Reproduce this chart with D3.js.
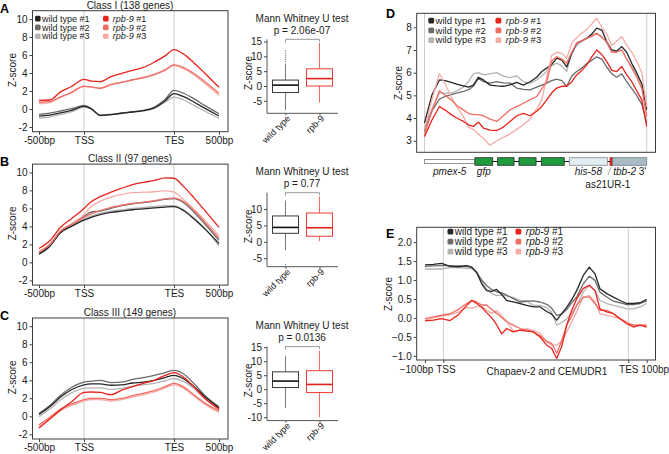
<!DOCTYPE html>
<html><head><meta charset="utf-8">
<script src="https://cdn.jsdelivr.net/npm/d3@7/dist/d3.min.js"></script>
<style>
html,body{margin:0;padding:0;background:#fff;}
svg text{font-family:"Liberation Sans",Arial,Helvetica,sans-serif;}
</style></head><body>
<svg id="fig" width="669" height="454" xmlns="http://www.w3.org/2000/svg"></svg>
<script>
// ================= DATA =================
const seriesNames = ["wild type #1","wild type #2","wild type #3","rpb-9 #1","rpb-9 #2","rpb-9 #3"];
const seriesColors = ["#262626","#6b6b6b","#b4b4b4","#e8231c","#ef6d64","#f6aca6"];

// metagene profiles (x: -500bp=0, TSS=25, TES=75, 500bp=100)
const profX = [0, 6, 12, 18, 25, 29, 34, 40, 46, 52, 58, 64, 70, 75, 80, 86, 92, 100];
const profTickPos = [0, 25, 75, 100];
const profTickLab = ["-500bp", "TSS", "TES", "500bp"];
const profYTicks = [-2, 0, 2, 4, 6, 8, 10];
const classTitles = ["Class I (138 genes)", "Class II (97 genes)", "Class III (149 genes)"];

const aWt1 = [-0.8, -0.67, -0.44, -0.15, 0.3, 0.02, -0.7, -0.62, -0.47, -0.33, -0.18, 0.12, 0.9, 1.7, 1.4, 0.78, 0.1, -0.78];
const aWt2 = [-0.6, -0.45, -0.22, 0.04, 0.4, 0.06, -0.68, -0.6, -0.44, -0.3, -0.14, 0.2, 1.05, 2.07, 1.78, 1.15, 0.4, -0.52];
const aWt3 = [-1.0, -0.9, -0.6, -0.33, 0.22, 0.0, -0.72, -0.64, -0.48, -0.35, -0.2, 0.05, 0.75, 1.33, 1.04, 0.4, -0.22, -1.04];
const aRpb1 = [0.96, 1.0, 1.9, 2.5, 3.3, 3.1, 3.05, 3.6, 3.95, 4.3, 4.62, 5.2, 5.9, 6.6, 6.15, 5.15, 4.0, 2.4];
const aRpb2 = [0.75, 0.82, 1.35, 1.85, 2.55, 2.45, 2.3, 2.7, 2.95, 3.25, 3.5, 3.85, 4.35, 4.9, 4.62, 3.95, 3.05, 1.75];
const aRpb3 = [0.6, 0.72, 1.28, 1.8, 2.5, 2.42, 2.35, 2.75, 3.0, 3.2, 3.45, 3.8, 4.3, 4.85, 4.5, 3.8, 2.85, 1.5];

const bWt1 = [0.9, 1.8, 3.3, 4.0, 4.7, 5.0, 5.3, 5.55, 5.7, 5.85, 5.95, 6.05, 6.15, 6.2, 5.8, 4.85, 3.75, 2.1];
const bWt2 = [1.0, 1.9, 3.4, 4.2, 5.1, 5.6, 5.7, 6.0, 6.3, 6.5, 6.65, 6.8, 7.0, 7.1, 6.7, 5.6, 4.3, 2.45];
const bWt3 = [0.95, 1.85, 3.35, 4.05, 4.8, 5.15, 5.45, 5.7, 5.85, 6.0, 6.1, 6.2, 6.3, 6.3, 5.9, 4.95, 3.8, 1.85];
const bRpb1 = [1.55, 2.4, 3.9, 4.85, 6.0, 6.75, 7.3, 7.8, 8.25, 8.65, 8.9, 9.1, 9.4, 9.35, 8.5, 7.2, 5.8, 3.9];
const bRpb2 = [1.15, 2.0, 3.5, 4.2, 5.0, 5.4, 5.75, 6.1, 6.35, 6.55, 6.7, 6.85, 7.05, 7.15, 6.8, 5.8, 4.5, 2.7];
const bRpb3 = [1.2, 2.0, 3.5, 4.3, 5.3, 6.2, 6.8, 7.25, 7.55, 7.75, 7.8, 7.85, 7.95, 7.8, 7.05, 5.95, 4.7, 3.0];

const cWt1 = [0.2, 1.05, 2.15, 2.95, 3.5, 3.6, 3.6, 3.45, 3.5, 3.7, 3.8, 4.0, 4.3, 4.55, 4.2, 3.3, 2.2, 0.95];
const cWt2 = [0.33, 1.2, 2.35, 3.2, 3.8, 3.9, 4.0, 3.75, 3.8, 4.1, 4.3, 4.55, 4.85, 5.1, 4.75, 3.65, 2.35, 1.05];
const cWt3 = [-0.05, 0.8, 1.85, 2.6, 3.1, 3.15, 3.15, 3.0, 3.1, 3.35, 3.5, 3.65, 3.95, 4.2, 3.9, 3.1, 2.0, 0.8];
const cRpb1 = [-1.3, -0.3, 0.7, 1.6, 2.65, 2.7, 2.65, 2.4, 2.9, 3.3, 3.65, 4.0, 4.55, 4.85, 4.4, 3.3, 2.0, 0.8];
const cRpb2 = [-0.95, -0.1, 0.8, 1.35, 1.85, 2.0, 2.0, 1.85, 2.0, 2.3, 2.55, 2.85, 3.3, 3.65, 3.3, 2.4, 1.5, 0.6];
const cRpb3 = [-1.15, -0.3, 0.65, 1.2, 1.7, 1.85, 1.85, 1.7, 1.85, 2.15, 2.4, 2.7, 3.15, 3.5, 3.15, 2.25, 1.35, 0.45];

// box plots: [lower whisker, Q1, median, Q3, upper whisker]
const boxGroups = ["wild type", "rpb-9"];
const boxTitle = "Mann Whitney U test";
const boxPvalues = ["p = 2.06e-07", "p = 0.77", "p = 0.0136"];
const boxIWt = [-8.1, -2.2, 0.3, 2.0, 7.6];
const boxIRpb = [-5.6, 0.0, 2.5, 5.8, 14.5];
const boxIWtOut = [8.3, 9.0, 9.7, 10.4, 11.1, 11.9];
const boxIIWt = [-2.6, 2.6, 4.4, 7.9, 12.6];
const boxIIRpb = [0.2, 1.7, 4.3, 8.8, 13.9];
const boxIIWtOut = [-6.9];
const boxIIIWt = [-6.7, 0.6, 2.9, 6.2, 11.9];
const boxIIIRpb = [-10.0, -1.2, 1.7, 6.6, 13.7];
const boxIIIWtOut = [];
const boxYTicks = [[-5, 0, 5, 10, 15], [-5, 0, 5, 10], [-10, -5, 0, 5, 10, 15]];

// panel D: reporter transgene (x: 0..100 along construct)
const dX = [0, 3.3, 6.7, 9.3, 12, 14.5, 17.5, 19.8, 22, 24.3, 26.5, 29.5, 32.5, 35.5, 38.5, 41.5, 44.5, 47.5, 50.5, 52.8, 55, 57.2, 59.5, 61.8, 64, 66.3, 68.5, 70.8, 73, 75.3, 77.5, 79.8, 82, 84.3, 86.5, 88.8, 91, 93.3, 95.5, 97.8, 100];
const dWt1 = [3.78, 5.0, 5.68, 5.65, 5.57, 5.5, 5.42, 5.36, 5.45, 5.8, 5.68, 5.45, 5.42, 5.4, 5.46, 5.57, 5.45, 5.6, 5.8, 6.05, 6.2, 6.35, 6.64, 6.55, 6.25, 6.85, 7.3, 7.4, 7.52, 7.7, 7.96, 7.88, 7.37, 7.0, 6.95, 7.15, 6.9, 6.4, 6.0, 5.5, 4.37];
const dWt2 = [3.44, 4.3, 4.83, 4.95, 5.03, 5.1, 5.17, 5.25, 5.4, 5.76, 5.6, 5.54, 5.6, 5.55, 5.54, 5.32, 5.26, 5.24, 5.36, 5.45, 5.54, 5.65, 5.71, 5.65, 5.4, 5.85, 6.05, 6.2, 6.4, 6.55, 6.7, 6.6, 6.25, 5.95, 5.8, 5.95, 5.6, 5.3, 5.0, 4.6, 3.78];
const dWt3 = [3.5, 4.4, 5.1, 5.1, 5.1, 5.2, 5.36, 5.6, 5.95, 6.0, 5.9, 5.95, 6.0, 5.85, 5.78, 5.86, 5.6, 5.54, 5.68, 5.85, 6.05, 6.3, 6.42, 6.3, 6.05, 6.9, 7.2, 7.4, 7.5, 7.65, 7.74, 7.6, 7.3, 6.9, 6.95, 7.0, 6.6, 6.25, 5.9, 5.5, 4.5];
const dRpb1 = [3.18, 3.9, 4.51, 4.35, 4.15, 4.0, 3.85, 3.7, 3.63, 3.82, 3.56, 3.47, 3.45, 3.6, 3.85, 4.1, 4.2, 4.1, 4.3, 4.51, 4.8, 5.1, 5.32, 5.4, 5.4, 5.6, 5.9, 6.1, 6.34, 6.7, 7.0, 6.8, 6.5, 6.1, 6.05, 6.27, 5.9, 5.6, 5.2, 4.8, 3.63];
const dRpb2 = [3.3, 4.3, 5.2, 5.0, 4.8, 4.55, 4.36, 4.2, 4.15, 4.15, 4.1, 3.95, 3.85, 4.1, 4.36, 4.5, 4.65, 4.8, 4.95, 5.3, 5.6, 6.5, 6.7, 6.6, 6.42, 6.9, 7.3, 7.4, 7.52, 7.6, 7.74, 7.55, 7.37, 6.9, 6.9, 7.0, 6.6, 6.2, 5.8, 5.3, 4.07];
const dRpb3 = [3.5, 4.8, 5.95, 5.5, 4.95, 4.5, 4.07, 3.6, 3.5, 3.3, 3.1, 2.8, 3.0, 3.15, 3.3, 3.5, 3.7, 3.95, 4.4, 4.8, 5.8, 6.75, 6.9, 6.85, 6.64, 7.3, 7.55, 7.74, 7.9, 8.15, 8.4, 8.0, 7.7, 7.2, 7.4, 7.59, 7.2, 6.9, 6.5, 6.0, 4.5];
const dYTicks = [3, 4, 5, 6, 7, 8];

// gene model of the reporter
const genePartStart = [0, 22.7, 32.9, 42.5, 52.6, 65.2, 83.5, 84.7];
const genePartEnd = [22.7, 30.7, 40.3, 50.2, 62.9, 82.3, 84.7, 100];
const genePartKind = ["promoter", "exon", "exon", "exon", "exon", "his", "pirna", "utr"];
const genePartLabel = ["pmex-5", "gfp", "", "", "", "his-58", "as21UR-1", "tbb-2"];

// panel E: transposons (x: -100bp=0, TSS=8.3, TES=91.7, 100bp=100)
const eX = [0, 3.8, 7.5, 11.3, 15, 18.8, 21.1, 23.3, 25.6, 27.8, 30.1, 32.3, 34.6, 36.8, 39.8, 42.9, 45.9, 48.9, 51.9, 54.9, 57.1, 59.4, 61.7, 63.9, 66.2, 68.4, 71.4, 74.1, 76.7, 78.9, 82, 85, 88, 91, 94, 97, 100];
const eWt1 = [1.40, 1.41, 1.44, 1.36, 1.35, 1.38, 1.34, 1.20, 0.90, 0.72, 0.70, 0.75, 0.62, 0.46, 0.42, 0.38, 0.33, 0.29, 0.29, 0.17, 0.10, -0.06, 0.12, 0.28, 0.48, 0.72, 1.12, 1.34, 1.16, 0.77, 0.64, 0.55, 0.46, 0.38, 0.38, 0.40, 0.49];
const eWt2 = [1.36, 1.37, 1.38, 1.38, 1.37, 1.36, 1.33, 1.20, 1.00, 0.85, 0.75, 0.69, 0.66, 0.60, 0.51, 0.42, 0.44, 0.45, 0.42, 0.36, 0.26, 0.07, 0.10, 0.22, 0.40, 0.55, 0.90, 1.10, 0.99, 0.68, 0.55, 0.44, 0.40, 0.35, 0.35, 0.38, 0.44];
const eWt3 = [1.29, 1.29, 1.29, 1.33, 1.33, 1.31, 1.30, 1.20, 0.95, 0.75, 0.64, 0.59, 0.60, 0.58, 0.54, 0.46, 0.44, 0.33, 0.33, 0.27, 0.15, -0.19, -0.12, -0.02, 0.12, 0.33, 0.68, 0.86, 0.72, 0.46, 0.38, 0.33, 0.29, 0.24, 0.24, 0.29, 0.38];
const eRpb1 = [-0.08, -0.06, -0.02, -0.07, 0.08, 0.33, 0.46, 0.38, 0.28, 0.14, 0.00, -0.18, -0.42, -0.28, -0.37, -0.32, -0.35, -0.37, -0.50, -0.72, -0.80, -1.07, -0.75, -0.19, 0.20, 0.50, 0.78, 0.86, 0.72, 0.24, 0.16, 0.11, -0.02, -0.15, -0.24, -0.19, -0.24];
const eRpb2 = [-0.02, 0.03, 0.07, 0.11, 0.22, 0.38, 0.46, 0.42, 0.34, 0.34, 0.22, 0.12, 0.01, -0.10, -0.19, -0.28, -0.32, -0.37, -0.47, -0.62, -0.67, -0.93, -0.60, -0.20, 0.05, 0.33, 0.55, 0.55, 0.38, 0.20, 0.20, 0.11, -0.02, -0.15, -0.19, -0.19, -0.19];
const eRpb3 = [-0.06, 0.00, 0.05, 0.08, 0.15, 0.28, 0.25, 0.30, 0.30, 0.20, 0.12, 0.20, 0.05, -0.08, -0.35, -0.32, -0.28, -0.33, -0.40, -0.63, -0.72, -0.72, -0.60, -0.38, -0.10, 0.16, 0.55, 0.59, 0.42, 0.11, 0.07, 0.03, -0.02, -0.10, -0.19, -0.19, -0.19];
const eTickPos = [0, 8.3, 91.7, 100];
const eTickLab = ["\u2212100bp", "TSS", "TES", "100bp"];
const eMidLabel = "Chapaev-2 and CEMUDR1";
const eMidPos = 55;
const eYTicks = [-1, -0.5, 0, 0.5, 1, 1.5, 2];

// ================= DRAWING =================
const FF = "'Liberation Sans', Arial, Helvetica, sans-serif";
const svg = d3.select("#fig");
svg.append("rect").attr("width", 669).attr("height", 454).attr("fill", "#fff");
const drawOrder = [2, 1, 0, 5, 4, 3];

function styleAxis(ax) {
  ax.attr("font-family", null).attr("font-size", null);
  ax.selectAll(".domain").remove();
  ax.selectAll(".tick line").attr("stroke", "#444");
  ax.selectAll(".tick text").attr("fill", "#1a1a1a").style("font-size", "10px").style("font-family", FF);
}
function label(g, x, y, s, size, anchor, extra) {
  const t = g.append("text").attr("x", x).attr("y", y).attr("text-anchor", anchor || "start")
    .style("font-size", size + "px").style("font-family", FF).attr("fill", "#1a1a1a").text(s);
  if (extra) extra(t);
  return t;
}
function yTitle(g, x, y) {
  g.append("text").attr("transform", `translate(${x},${y}) rotate(-90)`).attr("text-anchor", "middle")
    .attr("dy", "0.35em").style("font-size", "10px").style("font-family", FF).attr("fill", "#1a1a1a").text("Z-score");
}
function legend(g, x0, x1, y0, dy, fs, ms, gap1, gap2) {
  seriesNames.forEach((n, i) => {
    const isWt = i < 3;
    const cx = isWt ? x0 : x1;
    const y = y0 + (i % 3) * dy;
    g.append("rect").attr("x", cx).attr("y", y - ms / 2).attr("width", ms).attr("height", ms)
      .attr("rx", 1.5).attr("fill", seriesColors[i]);
    const t = g.append("text").attr("x", cx + ms + (isWt ? gap1 : gap2)).attr("y", y).attr("dy", "0.35em")
      .style("font-size", fs + "px").style("font-family", FF).attr("fill", "#1a1a1a");
    const parts = n.split(" #");
    if (isWt) t.text(n);
    else {
      t.append("tspan").style("font-style", "italic").text(parts[0]);
      t.append("tspan").text(" #" + parts[1]);
    }
  });
}

// ---------- profile panels A, B, C ----------
const profData = [
  [aWt1, aWt2, aWt3, aRpb1, aRpb2, aRpb3],
  [bWt1, bWt2, bWt3, bRpb1, bRpb2, bRpb3],
  [cWt1, cWt2, cWt3, cRpb1, cRpb2, cRpb3]
];
const panelOff = [0, 153.4, 307.3];
const panelLetters = ["A", "B", "C"];

profData.forEach((ser, pi) => {
  const g = svg.append("g").attr("transform", `translate(0,${panelOff[pi]})`);
  const x = d3.scaleLinear().domain([0, 100]).range([39, 219]);
  const y = d3.scaleLinear().domain([-2.52, 10.92]).range([131.7, 10.7]);
  [profTickPos[1], profTickPos[2]].forEach(v => g.append("line").attr("x1", x(v)).attr("x2", x(v))
    .attr("y1", 10.7).attr("y2", 131.7).attr("stroke", "#cdcdcd").attr("stroke-width", 1));
  const line = d3.line().x((d, i) => x(profX[i])).y(d => y(d)).curve(d3.curveMonotoneX);
  drawOrder.forEach(si => g.append("path").attr("d", line(ser[si])).attr("fill", "none")
    .attr("stroke", seriesColors[si]).attr("stroke-width", 1.3).attr("stroke-linejoin", "round"));
  g.append("rect").attr("x", 32.5).attr("y", 10.7).attr("width", 195.5).attr("height", 121)
    .attr("fill", "none").attr("stroke", "#3c3c3c").attr("stroke-width", 1);
  const ay = g.append("g").attr("transform", "translate(32.5,0)")
    .call(d3.axisLeft(y).tickValues(profYTicks).tickSize(3).tickPadding(2).tickFormat(d => (d < 0 ? "-" + Math.abs(d) : "" + d)));
  styleAxis(ay);
  const ax = g.append("g").attr("transform", "translate(0,131.7)")
    .call(d3.axisBottom(x).tickValues(profTickPos).tickSize(3).tickPadding(2).tickFormat((d, i) => profTickLab[i]));
  styleAxis(ax);
  yTitle(g, 12, 70);
  label(g, 130, 9, classTitles[pi], 10, "middle");
  label(g, 0, 12.5, panelLetters[pi], 12.5, "start", t => t.style("font-weight", "bold").attr("fill", "#000"));
  if (pi === 0) legend(g, 35, 103, 18.6, 8.8, 9, 5.6, 1.3, 4.2);
});

// ---------- box plots ----------
const boxData = [
  { wt: boxIWt, rpb: boxIRpb, out: boxIWtOut, dom: [-9.2, 15.75] },
  { wt: boxIIWt, rpb: boxIIRpb, out: boxIIWtOut, dom: [-7.6, 15.0] },
  { wt: boxIIIWt, rpb: boxIIIRpb, out: boxIIIWtOut, dom: [-11.2, 15.2] }
];
const boxStroke = ["#3a3a3a", "#ee3a33"];
const boxMedian = ["#111111", "#e3211a"];
const boxWhisk = ["#7a7a7a", "#f06a63"];

boxData.forEach((bd, pi) => {
  const g = svg.append("g").attr("transform", `translate(0,${panelOff[pi]})`);
  const top = 39.3, bot = 113.3;
  const y = d3.scaleLinear().domain(bd.dom).range([bot, top]);
  const x = d3.scalePoint().domain(boxGroups).range([267, 338]).padding(0.544);
  const bw = 26;
  [bd.wt, bd.rpb].forEach((st, k) => {
    const cx = x(boxGroups[k]);
    g.append("line").attr("x1", cx).attr("x2", cx).attr("y1", y(st[0])).attr("y2", y(st[1]))
      .attr("stroke", boxWhisk[k]).attr("stroke-width", 1);
    g.append("line").attr("x1", cx).attr("x2", cx).attr("y1", y(st[3])).attr("y2", y(st[4]))
      .attr("stroke", boxWhisk[k]).attr("stroke-width", 1);
    g.append("rect").attr("x", cx - bw / 2).attr("y", y(st[3])).attr("width", bw).attr("height", y(st[1]) - y(st[3]))
      .attr("fill", "#fff").attr("stroke", boxStroke[k]).attr("stroke-width", 1);
    g.append("line").attr("x1", cx - bw / 2).attr("x2", cx + bw / 2).attr("y1", y(st[2])).attr("y2", y(st[2]))
      .attr("stroke", boxMedian[k]).attr("stroke-width", 1.6);
  });
  bd.out.forEach(v => g.append("circle").attr("cx", x(boxGroups[0])).attr("cy", y(v)).attr("r", 0.7).attr("fill", "#888"));
  // significance bracket
  const bx0 = x(boxGroups[0]), bx1 = x(boxGroups[1]);
  g.append("path").attr("d", `M${bx0},${top + 3}V${top}H${bx1}V${top + 2.5}`).attr("fill", "none")
    .attr("stroke", "#999").attr("stroke-width", 1);
  // axes
  const ay = g.append("g").attr("transform", "translate(267,0)")
    .call(d3.axisLeft(y).tickValues(boxYTicks[pi]).tickSize(3).tickPadding(2).tickFormat(d => (d < 0 ? "-" + Math.abs(d) : "" + d)));
  styleAxis(ay);
  g.append("line").attr("x1", 267).attr("x2", 267).attr("y1", top).attr("y2", bot).attr("stroke", "#555");
  const ax = g.append("g").attr("transform", `translate(0,${bot})`)
    .call(d3.axisBottom(x).tickSize(2).tickFormat(""));
  styleAxis(ax);
  g.append("line").attr("x1", 267).attr("x2", 338).attr("y1", bot).attr("y2", bot).attr("stroke", "#555");
  boxGroups.forEach((nm, k) => {
    g.append("text").attr("transform", `translate(${x(nm) + 3},${bot + 3.5}) rotate(-45)`)
      .attr("text-anchor", "end").attr("dy", "0.35em").style("font-size", "9px").style("font-family", FF)
      .attr("fill", "#1a1a1a").text(nm);
  });
  yTitle(g, 248.5, 73);
  label(g, 302, 22, boxTitle, 10, "middle");
  label(g, 302, 33.5, boxPvalues[pi], 10, "middle");
});

// ---------- panel D ----------
(function () {
  const g = svg.append("g");
  const L = 416.7, R = 655.5, T = 13.3, B = 152.3;
  const x = d3.scaleLinear().domain([0, 100]).range([424.5, 646.7]);
  const y = d3.scaleLinear().domain([2.489, 8.617]).range([B, T]);
  [0, 100].forEach(v => g.append("line").attr("x1", x(v)).attr("x2", x(v)).attr("y1", T).attr("y2", B)
    .attr("stroke", "#cdcdcd"));
  const ser = [dWt1, dWt2, dWt3, dRpb1, dRpb2, dRpb3];
  const line = d3.line().x((d, i) => x(dX[i])).y(d => y(d));
  drawOrder.forEach(si => g.append("path").attr("d", line(ser[si])).attr("fill", "none")
    .attr("stroke", seriesColors[si]).attr("stroke-width", 1.3).attr("stroke-linejoin", "round"));
  g.append("rect").attr("x", L).attr("y", T).attr("width", R - L).attr("height", B - T)
    .attr("fill", "none").attr("stroke", "#3c3c3c");
  const ay = g.append("g").attr("transform", `translate(${L},0)`)
    .call(d3.axisLeft(y).tickValues(dYTicks).tickSize(3).tickPadding(2).tickFormat(d => "" + d));
  styleAxis(ay);
  yTitle(g, 398, 83);
  label(g, 386, 18, "D", 12.5, "start", t => t.style("font-weight", "bold").attr("fill", "#000"));
  legend(g, 428.3, 495.5, 20.7, 9.7, 9.5, 5.8, 1.5, 4.5);

  // gene model
  const yc = 161.5;
  g.append("line").attr("x1", x(genePartEnd[0])).attr("x2", x(genePartStart[6])).attr("y1", yc).attr("y2", yc)
    .attr("stroke", "#111").attr("stroke-width", 1.2);
  const fills = { promoter: "#ffffff", exon: "#1f9a3d", his: "#e1ecf3", pirna: "#d9261c", utr: "#a9bcc6" };
  const strokes = { promoter: "#7a7a7a", exon: "#2a2a2a", his: "#8a8a8a", pirna: "#b01a12", utr: "#6f7f88" };
  genePartStart.forEach((s, i) => {
    const k = genePartKind[i];
    const h = k === "promoter" ? 4 : 7.6;
    g.append("rect").attr("x", x(s)).attr("y", yc - h / 2).attr("width", x(genePartEnd[i]) - x(s)).attr("height", h)
      .attr("fill", fills[k]).attr("stroke", strokes[k]).attr("stroke-width", 0.8);
  });
  genePartLabel.forEach((lb, i) => {
    if (!lb) return;
    const k = genePartKind[i];
    const mid = x((genePartStart[i] + genePartEnd[i]) / 2);
    if (k === "pirna") {
      g.append("line").attr("x1", mid).attr("y1", yc + 5).attr("x2", mid - 3.5).attr("y2", yc + 13.5)
        .attr("stroke", "#999").attr("stroke-width", 0.8);
      label(g, mid - 3.5, 187.5, lb, 10, "middle");
    } else if (k === "utr") {
      const t = label(g, mid, 175, "", 10, "middle");
      t.append("tspan").style("font-style", "italic").text(lb);
      t.append("tspan").text(" 3'");
    } else {
      label(g, mid, 175, lb, 10, "middle", t => t.style("font-style", "italic"));
    }
  });
})();

// ---------- panel E ----------
(function () {
  const g = svg.append("g");
  const L = 416.7, R = 655.5, T = 227.3, B = 360;
  const x = d3.scaleLinear().domain([0, 100]).range([425, 646.7]);
  const y = d3.scaleLinear().domain([-1.11, 2.39]).range([B, T]);
  [eTickPos[1], eTickPos[2]].forEach(v => g.append("line").attr("x1", x(v)).attr("x2", x(v)).attr("y1", T).attr("y2", B)
    .attr("stroke", "#cdcdcd"));
  const ser = [eWt1, eWt2, eWt3, eRpb1, eRpb2, eRpb3];
  const line = d3.line().x((d, i) => x(eX[i])).y(d => y(d));
  drawOrder.forEach(si => g.append("path").attr("d", line(ser[si])).attr("fill", "none")
    .attr("stroke", seriesColors[si]).attr("stroke-width", 1.3).attr("stroke-linejoin", "round"));
  g.append("rect").attr("x", L).attr("y", T).attr("width", R - L).attr("height", B - T)
    .attr("fill", "none").attr("stroke", "#3c3c3c");
  const ay = g.append("g").attr("transform", `translate(${L},0)`)
    .call(d3.axisLeft(y).tickValues(eYTicks).tickSize(3).tickPadding(2).tickFormat(d3.format(".1f")));
  styleAxis(ay);
  const ax = g.append("g").attr("transform", `translate(0,${B})`)
    .call(d3.axisBottom(x).tickValues(eTickPos).tickSize(3).tickPadding(3).tickFormat((d, i) => eTickLab[i]));
  styleAxis(ax);
  ax.selectAll(".tick text").attr("dx", (d, i) => (i === 0 ? -9 : i === 1 ? 2 : i === 3 ? 8 : 0));
  label(g, x(eMidPos), B + 15.2, eMidLabel, 10, "middle");
  yTitle(g, 388, 294);
  label(g, 386, 238, "E", 12.5, "start", t => t.style("font-weight", "bold").attr("fill", "#000"));
  legend(g, 447.5, 515.5, 231.7, 10, 10, 5.8, 1.5, 4.5);
})();
</script>
</body></html>
